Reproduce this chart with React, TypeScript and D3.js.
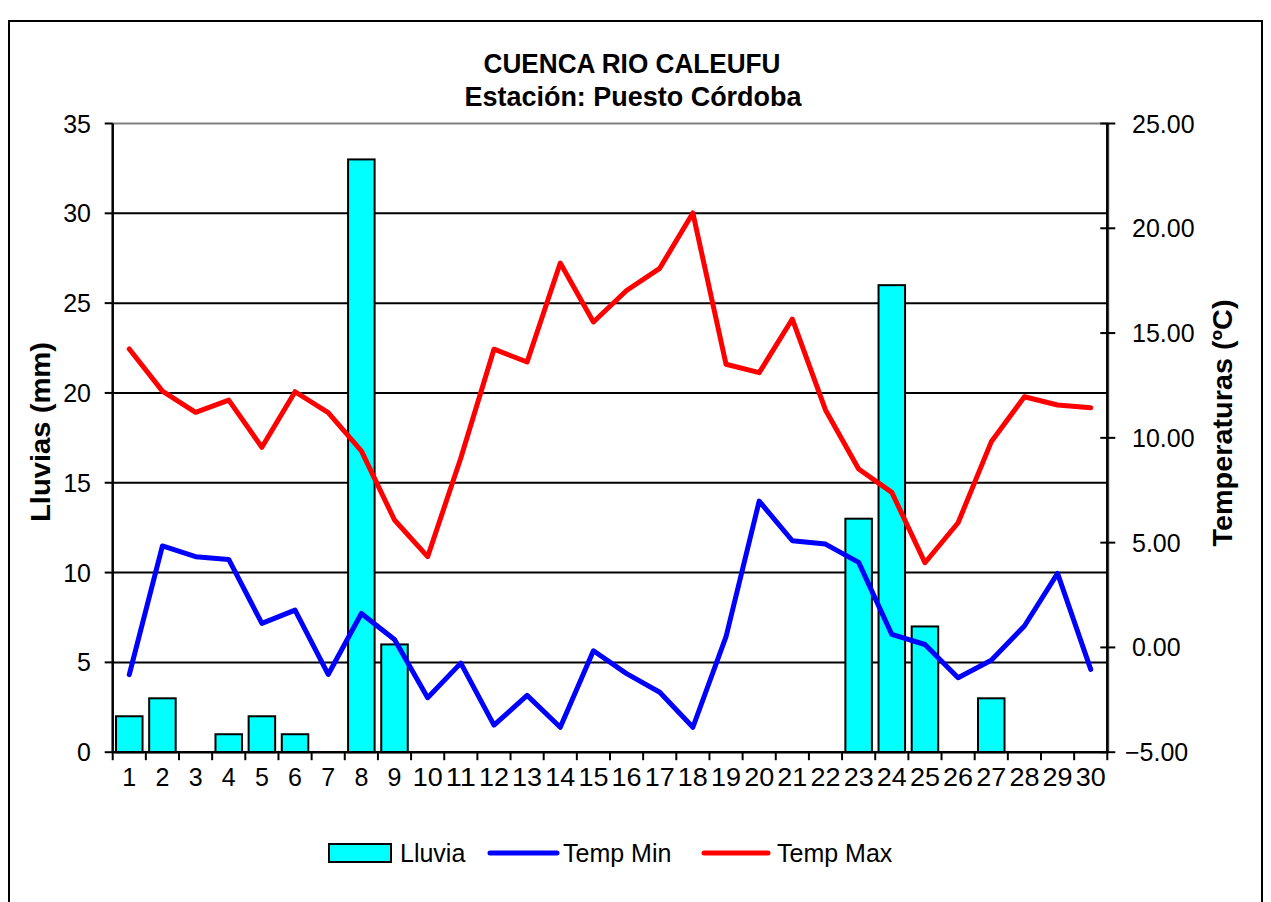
import React, { useEffect, useRef } from 'react';
import * as d3 from 'd3';

// dias del mes
const days = ['1', '2', '3', '4', '5', '6', '7', '8', '9', '10', '11', '12', '13', '14', '15',
  '16', '17', '18', '19', '20', '21', '22', '23', '24', '25', '26', '27', '28', '29', '30'];

// lluvia diaria (mm)
const lluvia = [2, 3, 0, 1, 2, 1, 0, 33, 6, 0, 0, 0, 0, 0, 0,
  0, 0, 0, 0, 0, 0, 0, 13, 26, 7, 0, 3, 0, 0, 0];

// temperaturas (ºC)
const tempMin = [-1.3, 4.84, 4.33, 4.2, 1.15, 1.78, -1.29, 1.62, 0.38, -2.4, -0.75, -3.71, -2.29, -3.81, -0.16,
  -1.25, -2.14, -3.81, 0.51, 6.98, 5.09, 4.93, 4.06, 0.62, 0.14, -1.45, -0.61, 1.02, 3.53, -1.05];
const tempMax = [14.24, 12.23, 11.22, 11.8, 9.55, 12.2, 11.2, 9.38, 6.08, 4.33, 9.04, 14.23, 13.62, 18.34, 15.53,
  17.03, 18.09, 20.73, 13.51, 13.11, 15.67, 11.33, 8.51, 7.4, 4.04, 5.95, 9.81, 11.96, 11.57, 11.44];

const lluviaTicks = [0, 5, 10, 15, 20, 25, 30, 35];
const tempTicks = [-5, 0, 5, 10, 15, 20, 25];

const W = 1271;
const H = 902;
const font = 'Arial, "Liberation Sans", sans-serif';

const App: React.FC = () => {
  const svgRef = useRef<SVGSVGElement>(null);

  useEffect(() => {
    const svg = d3.select(svgRef.current);
    svg.selectAll('*').remove();

    const left = 112.7, right = 1107.3, top = 123.5, bottom = 752.2;

    const x = d3.scaleBand().domain(days).range([left, right]).padding(0);
    const yL = d3.scaleLinear().domain([0, 35]).range([bottom, top]);
    const yR = d3.scaleLinear().domain([-5, 25]).range([bottom, top]);

    // borde del grafico
    svg.append('rect')
      .attr('x', 9).attr('y', 21)
      .attr('width', 1253).attr('height', 900)
      .attr('fill', 'white')
      .attr('stroke', 'black')
      .attr('stroke-width', 2);

    // titulo
    svg.append('text')
      .attr('x', 632).attr('y', 73)
      .attr('text-anchor', 'middle')
      .style('font-family', font).style('font-size', '27px').style('font-weight', 'bold')
      .attr('textLength', 297).attr('lengthAdjust', 'spacingAndGlyphs')
      .text('CUENCA RIO CALEUFU');
    svg.append('text')
      .attr('x', 633).attr('y', 106)
      .attr('text-anchor', 'middle')
      .style('font-family', font).style('font-size', '27px').style('font-weight', 'bold')
      .attr('textLength', 337).attr('lengthAdjust', 'spacingAndGlyphs')
      .text('Estación: Puesto Córdoba');

    // borde del area de trazado (gris)
    svg.append('line')
      .attr('x1', left).attr('x2', right + 1).attr('y1', top).attr('y2', top)
      .attr('stroke', '#808080').attr('stroke-width', 2);
    svg.append('line')
      .attr('x1', right + 1).attr('x2', right + 1).attr('y1', top).attr('y2', bottom)
      .attr('stroke', '#808080').attr('stroke-width', 2);

    // lineas de division
    svg.append('g')
      .selectAll('line')
      .data(lluviaTicks.filter(d => d > 0 && d < 35))
      .join('line')
        .attr('x1', left).attr('x2', right)
        .attr('y1', d => yL(d)).attr('y2', d => yL(d))
        .attr('stroke', 'black').attr('stroke-width', 2);

    // barras de lluvia
    const bw = x.bandwidth() * 0.8;
    svg.append('g')
      .selectAll('rect')
      .data(days.map((d, i) => ({ day: d, v: lluvia[i] })).filter(d => d.v > 0))
      .join('rect')
        .attr('x', d => x(d.day)! + (x.bandwidth() - bw) / 2)
        .attr('y', d => yL(d.v))
        .attr('width', bw)
        .attr('height', d => yL(0) - yL(d.v))
        .attr('fill', '#00FFFF')
        .attr('stroke', 'black')
        .attr('stroke-width', 2);

    // eje izquierdo
    svg.append('line')
      .attr('x1', left).attr('x2', left).attr('y1', top).attr('y2', bottom)
      .attr('stroke', 'black').attr('stroke-width', 2.5);
    const gl = svg.append('g');
    gl.selectAll('line')
      .data(lluviaTicks)
      .join('line')
        .attr('x1', left - 8).attr('x2', left)
        .attr('y1', d => yL(d)).attr('y2', d => yL(d))
        .attr('stroke', 'black').attr('stroke-width', 2);
    gl.selectAll('text')
      .data(lluviaTicks)
      .join('text')
        .attr('x', 91).attr('y', d => yL(d))
        .attr('dy', '0.36em')
        .attr('text-anchor', 'end')
        .style('font-family', font).style('font-size', '25px')
        .text(d => String(d));

    // eje x
    svg.append('line')
      .attr('x1', left).attr('x2', right).attr('y1', bottom).attr('y2', bottom)
      .attr('stroke', 'black').attr('stroke-width', 2.5);
    const gx = svg.append('g');
    gx.selectAll('line')
      .data(days.concat(['end']))
      .join('line')
        .attr('x1', d => d === 'end' ? right : x(d)!)
        .attr('x2', d => d === 'end' ? right : x(d)!)
        .attr('y1', bottom).attr('y2', bottom + 8)
        .attr('stroke', 'black').attr('stroke-width', 2);
    gx.selectAll('text')
      .data(days)
      .join('text')
        .attr('x', d => x(d)! + x.bandwidth() / 2)
        .attr('y', 786)
        .attr('text-anchor', 'middle')
        .style('font-family', font).style('font-size', '25px')
        .attr('textLength', d => d.length > 1 ? 30 : null)
        .attr('lengthAdjust', 'spacingAndGlyphs')
        .text(d => d);

    // eje derecho
    svg.append('line')
      .attr('x1', right).attr('x2', right).attr('y1', top).attr('y2', bottom)
      .attr('stroke', 'black').attr('stroke-width', 2.5);
    const gr = svg.append('g');
    gr.selectAll('line')
      .data(tempTicks)
      .join('line')
        .attr('x1', right - 7).attr('x2', right + 8)
        .attr('y1', d => yR(d)).attr('y2', d => yR(d))
        .attr('stroke', 'black').attr('stroke-width', 2);
    gr.selectAll('text')
      .data(tempTicks)
      .join('text')
        .attr('x', d => d < 0 ? 1125 : 1132).attr('y', d => yR(d))
        .attr('dy', '0.36em')
        .style('font-family', font).style('font-size', '25px')
        .text(d => d3.format('.2f')(d));

    // lineas de temperatura
    const line = d3.line<number>()
      .x((d, i) => x(days[i])! + x.bandwidth() / 2)
      .y(d => yR(d));
    svg.append('path')
      .datum(tempMin)
      .attr('d', line)
      .attr('fill', 'none').attr('stroke', '#0000FF').attr('stroke-width', 5)
      .attr('stroke-linejoin', 'round').attr('stroke-linecap', 'round');
    svg.append('path')
      .datum(tempMax)
      .attr('d', line)
      .attr('fill', 'none').attr('stroke', '#FF0000').attr('stroke-width', 5)
      .attr('stroke-linejoin', 'round').attr('stroke-linecap', 'round');

    // titulos de ejes
    svg.append('text')
      .attr('transform', 'translate(50,432) rotate(-90)')
      .attr('text-anchor', 'middle')
      .style('font-family', font).style('font-size', '27px').style('font-weight', 'bold')
      .attr('textLength', 180).attr('lengthAdjust', 'spacingAndGlyphs')
      .text('Lluvias (mm)');
    svg.append('text')
      .attr('transform', 'translate(1232,423) rotate(-90)')
      .attr('text-anchor', 'middle')
      .style('font-family', font).style('font-size', '27px').style('font-weight', 'bold')
      .attr('textLength', 247).attr('lengthAdjust', 'spacingAndGlyphs')
      .text('Temperaturas (ºC)');

    // leyenda
    const ly = 853;
    const lg = svg.append('g');
    lg.append('rect')
      .attr('x', 329).attr('y', ly - 9).attr('width', 62).attr('height', 18)
      .attr('fill', '#00FFFF').attr('stroke', 'black').attr('stroke-width', 2);
    lg.append('line')
      .attr('x1', 490).attr('x2', 557).attr('y1', ly).attr('y2', ly)
      .attr('stroke', '#0000FF').attr('stroke-width', 5).attr('stroke-linecap', 'round');
    lg.append('line')
      .attr('x1', 704).attr('x2', 768).attr('y1', ly).attr('y2', ly)
      .attr('stroke', '#FF0000').attr('stroke-width', 5).attr('stroke-linecap', 'round');
    const legendItems = [
      { label: 'Lluvia', x: 400 },
      { label: 'Temp Min', x: 563 },
      { label: 'Temp Max', x: 777 },
    ];
    lg.selectAll('text')
      .data(legendItems)
      .join('text')
        .attr('x', d => d.x).attr('y', ly)
        .attr('dy', '0.36em')
        .style('font-family', font).style('font-size', '25px')
        .text(d => d.label);
  }, []);

  return (
    <div style={{ position: 'absolute', left: 0, top: 0 }}>
      <svg ref={svgRef} width={W} height={H} />
    </div>
  );
};

export default App;
